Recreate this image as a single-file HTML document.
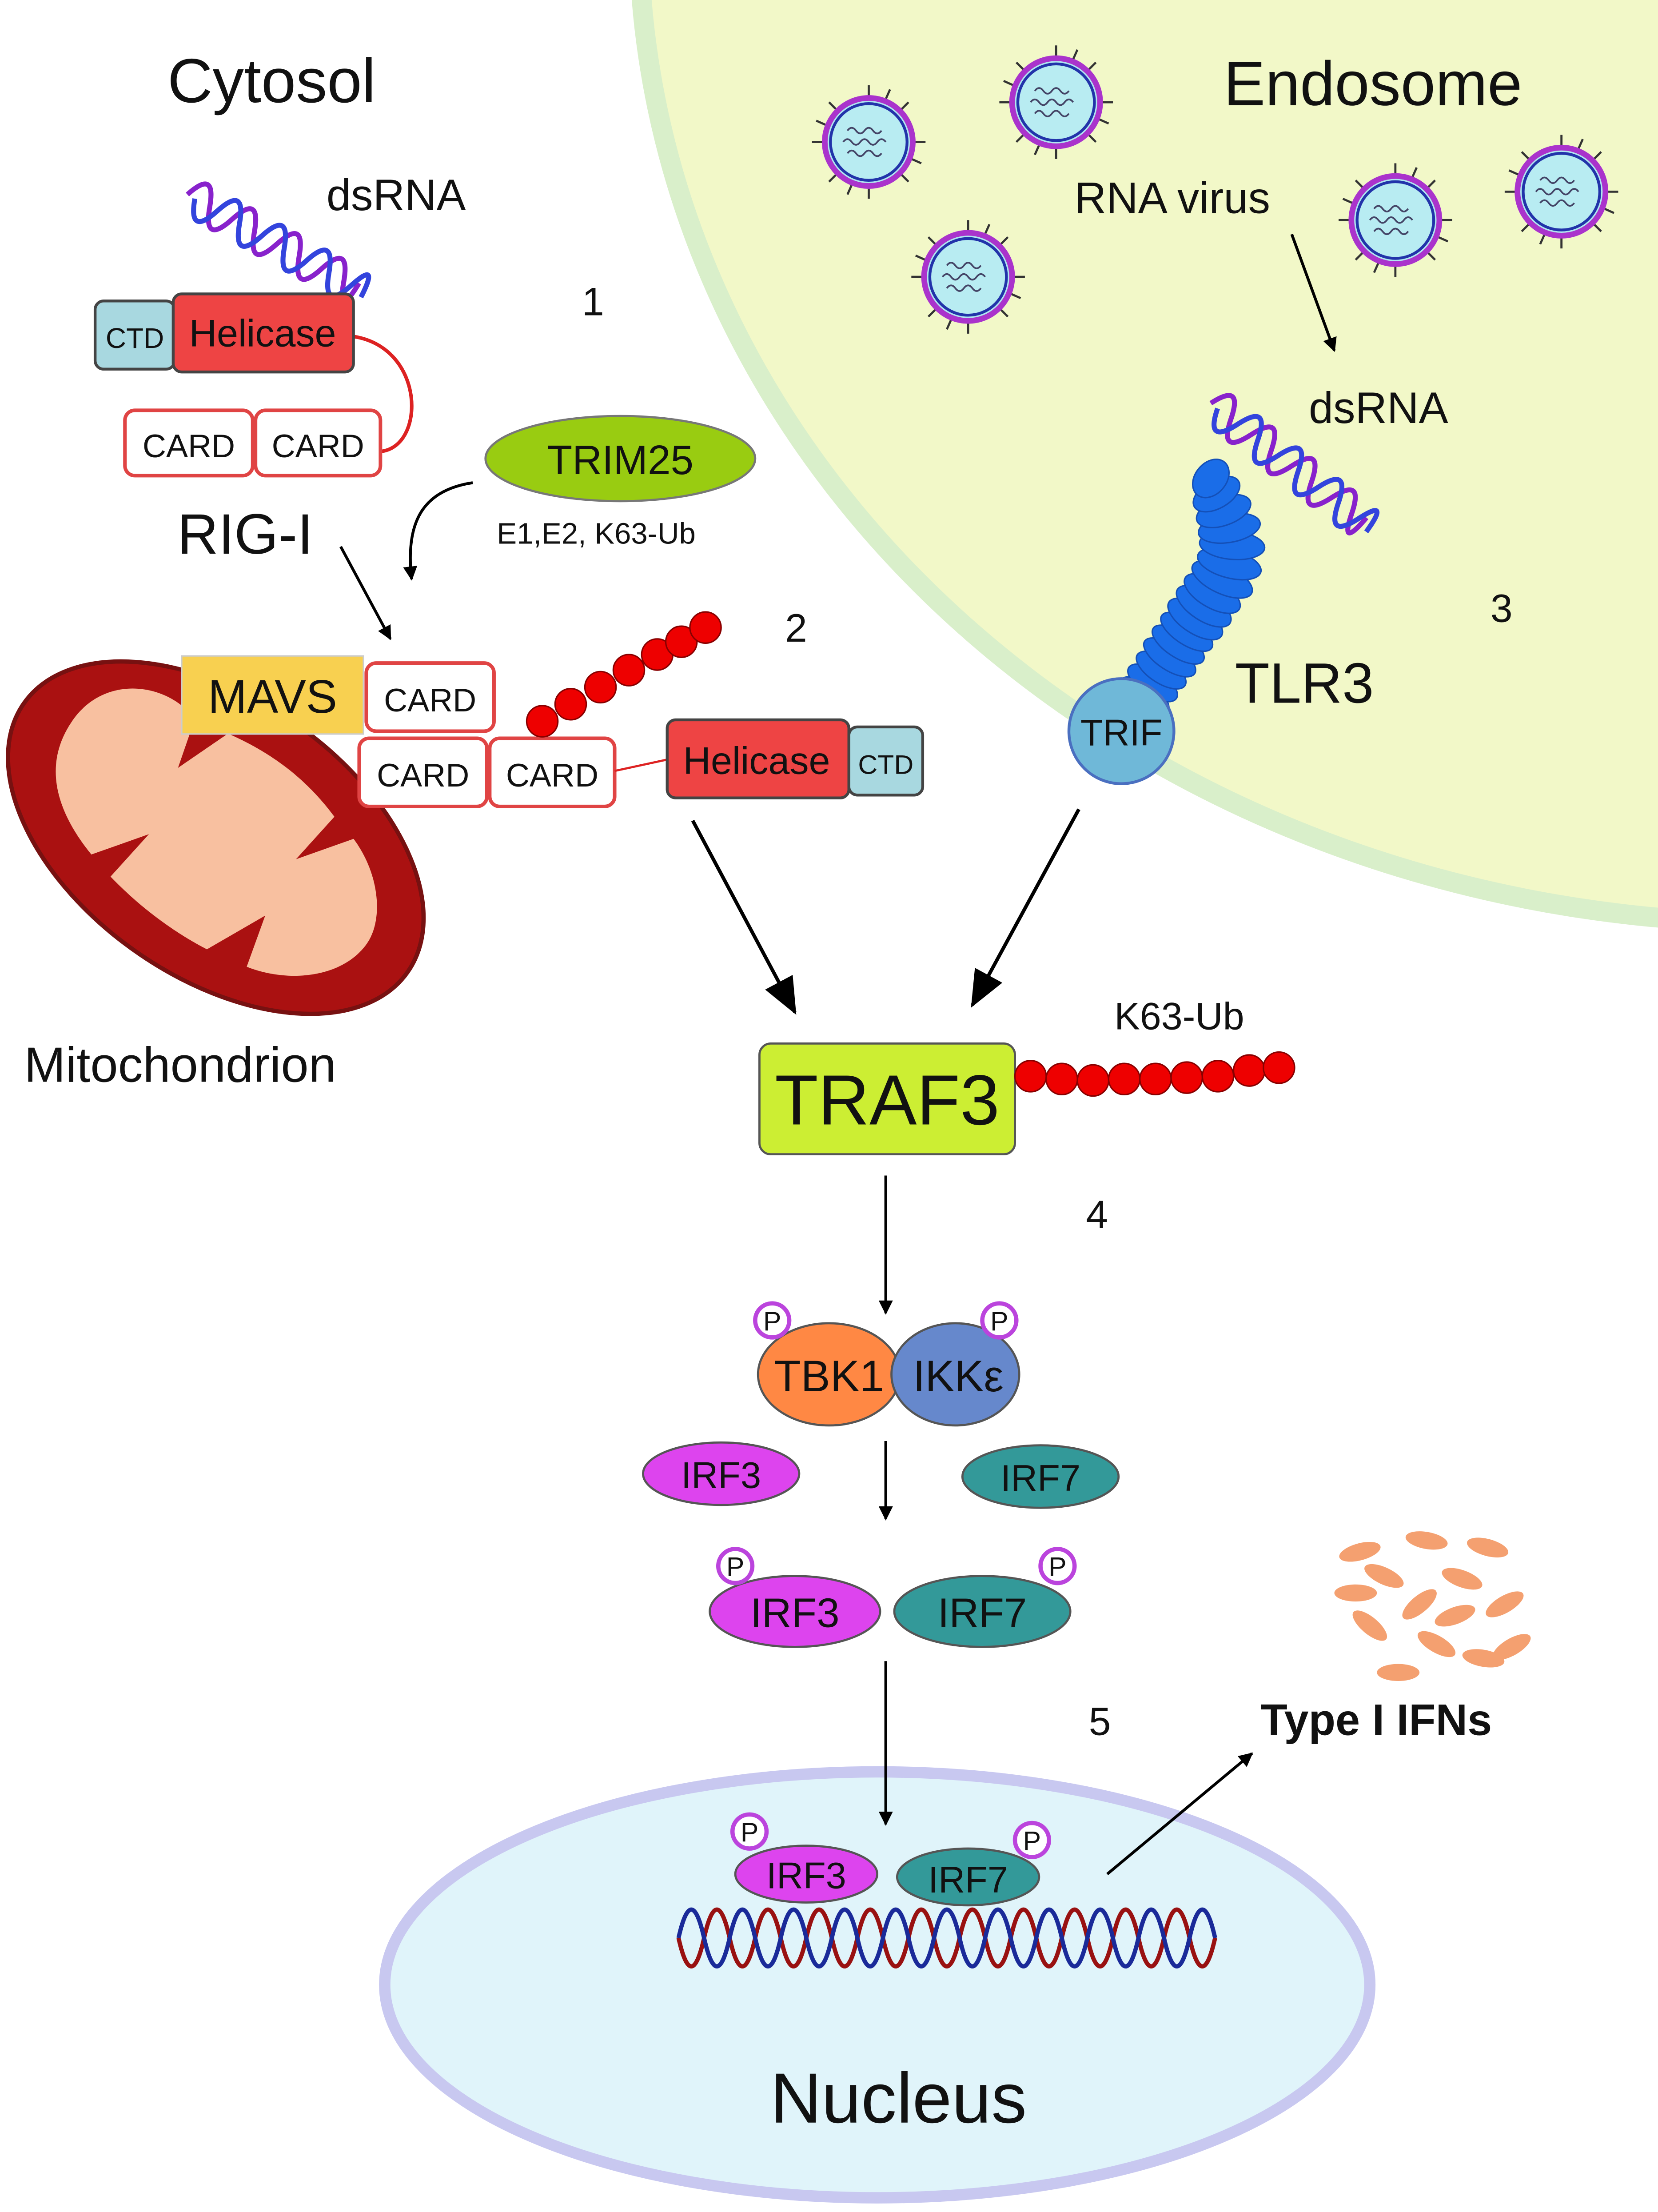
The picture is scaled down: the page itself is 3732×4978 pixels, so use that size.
<!DOCTYPE html>
<html><head><meta charset="utf-8"><style>
html,body{margin:0;padding:0;background:#fff;}
svg{display:block;}
text{font-family:"Liberation Sans",sans-serif;fill:#111;}
</style></head><body>
<svg width="3732" height="4978" viewBox="0 0 1168 1558" xmlns="http://www.w3.org/2000/svg">
<defs>
<marker id="ah" markerWidth="10" markerHeight="10" refX="9" refY="5" orient="auto" markerUnits="userSpaceOnUse">
<path d="M0,0 L10,5 L0,10 z" fill="#000"/></marker>
<marker id="ahb" markerWidth="26" markerHeight="22" refX="24" refY="11" orient="auto" markerUnits="userSpaceOnUse">
<path d="M0,0 L26,11 L0,22 z" fill="#000"/></marker>
<g id="vir">
<g stroke="#333" stroke-width="1.5">
<line x1="0" y1="-30" x2="0" y2="-40"/><line x1="0" y1="30" x2="0" y2="40"/><line x1="-30" y1="0" x2="-40" y2="0"/><line x1="30" y1="0" x2="40" y2="0"/>
<line x1="21" y1="21" x2="28" y2="28"/><line x1="-21" y1="21" x2="-28" y2="28"/><line x1="21" y1="-21" x2="28" y2="-28"/><line x1="-21" y1="-21" x2="-28" y2="-28"/>
<line x1="11" y1="-28" x2="15" y2="-37"/><line x1="-11" y1="28" x2="-15" y2="37"/><line x1="28" y1="11" x2="37" y2="15"/><line x1="-28" y1="-11" x2="-37" y2="-15"/>
</g>
<circle r="31" fill="#b0e8f0" stroke="#aa33cc" stroke-width="4"/>
<circle r="27" fill="#b8ecf2" stroke="#2233aa" stroke-width="2"/>
<path d="M-15,-8 q3,-4 6,0 t6,0 t6,0 t6,0 M-18,0 q3,-4 6,0 t6,0 t6,0 t6,0 t6,0 M-15,8 q3,-4 6,0 t6,0 t6,0 t6,0" fill="none" stroke="#446" stroke-width="1.2"/>
</g>
<g id="P"><circle r="12" fill="#fff" stroke="#bb44dd" stroke-width="3"/><text x="0" y="7" font-size="19" text-anchor="middle">P</text></g>
<g id="helix">
<path d="M0,0 q9,-26 18,0 t18,0 t18,0 t18,0 t18,0 t18,0 t18,0 t10,-4" fill="none" stroke="#8822cc" stroke-width="3.5"/>
<path d="M6,0 q9,26 18,0 t18,0 t18,0 t18,0 t18,0 t18,0 t18,0 t10,4" fill="none" stroke="#3344dd" stroke-width="3.5"/>
</g>
</defs>

<ellipse cx="1250" cy="-50" rx="800" ry="700" fill="#f2f8c8" stroke="#d9efca" stroke-width="14"/>

<text x="118" y="72" font-size="44">Cytosol</text>
<text x="862" y="74" font-size="44">Endosome</text>

<use href="#vir" x="612" y="100"/><use href="#vir" x="744" y="72"/><use href="#vir" x="682" y="195"/>
<use href="#vir" x="983" y="155"/><use href="#vir" x="1100" y="135"/>
<text x="757" y="150" font-size="31">RNA virus</text>
<line x1="910" y1="165" x2="940" y2="247" stroke="#000" stroke-width="2" marker-end="url(#ah)"/>

<use href="#helix" transform="translate(132,137) rotate(29)"/>
<text x="230" y="148" font-size="31">dsRNA</text>
<text x="410" y="222" font-size="28">1</text>

<path d="M249,237 C300,245 300,315 268,318" fill="none" stroke="#dd2222" stroke-width="2.5"/>
<rect x="67" y="212" width="56" height="48" rx="6" fill="#a8d8e0" stroke="#444" stroke-width="2"/>
<text x="95" y="245" font-size="20" text-anchor="middle">CTD</text>
<rect x="122" y="207" width="127" height="55" rx="6" fill="#ee4444" stroke="#444" stroke-width="2"/>
<text x="185" y="244" font-size="27" text-anchor="middle">Helicase</text>
<rect x="88" y="289" width="90" height="46" rx="7" fill="#fff" stroke="#e04444" stroke-width="2.5"/>
<text x="133" y="322" font-size="23" text-anchor="middle">CARD</text>
<rect x="180" y="289" width="88" height="46" rx="7" fill="#fff" stroke="#e04444" stroke-width="2.5"/>
<text x="224" y="322" font-size="23" text-anchor="middle">CARD</text>
<text x="125" y="390" font-size="40">RIG-I</text>

<ellipse cx="437" cy="323" rx="95" ry="30" fill="#99cc11" stroke="#777" stroke-width="1.5"/>
<text x="437" y="334" font-size="29" text-anchor="middle">TRIM25</text>
<text x="350" y="383" font-size="21">E1,E2, K63-Ub</text>
<path d="M333,340 C300,345 285,365 290,408" fill="none" stroke="#000" stroke-width="2" marker-end="url(#ah)"/>
<line x1="240" y1="385" x2="275" y2="450" stroke="#000" stroke-width="2" marker-end="url(#ah)"/>
<text x="553" y="452" font-size="28">2</text>

<g transform="translate(152,590) rotate(35)">
<ellipse rx="165" ry="98" fill="#aa1111" stroke="#771111" stroke-width="3"/>
<path d="M-130,-10 C-130,-50 -90,-70 -60,-60 L-50,-25 L-35,-65 C0,-72 30,-70 60,-60 L55,-20 L80,-55 C110,-45 130,-20 130,0 C130,30 100,55 70,62 L60,25 L40,68 C10,72 -20,70 -45,65 L-40,25 L-65,60 C-100,50 -130,30 -130,-10 z" fill="#f8c0a0"/>
</g>
<text x="17" y="762" font-size="35">Mitochondrion</text>

<rect x="128" y="462" width="128" height="55" fill="#f8d050" stroke="#ccc" stroke-width="1"/>
<text x="192" y="502" font-size="33" text-anchor="middle">MAVS</text>
<rect x="258" y="467" width="90" height="48" rx="7" fill="#fff" stroke="#e04444" stroke-width="2.5"/>
<text x="303" y="501" font-size="23" text-anchor="middle">CARD</text>
<rect x="253" y="520" width="90" height="48" rx="7" fill="#fff" stroke="#e04444" stroke-width="2.5"/>
<text x="298" y="554" font-size="23" text-anchor="middle">CARD</text>
<rect x="345" y="520" width="88" height="48" rx="7" fill="#fff" stroke="#e04444" stroke-width="2.5"/>
<text x="389" y="554" font-size="23" text-anchor="middle">CARD</text>
<line x1="433" y1="543" x2="470" y2="535" stroke="#dd2222" stroke-width="1.5"/>
<rect x="470" y="507" width="128" height="55" rx="6" fill="#ee4444" stroke="#444" stroke-width="2"/>
<text x="533" y="545" font-size="27" text-anchor="middle">Helicase</text>
<rect x="598" y="512" width="52" height="48" rx="6" fill="#a8d8e0" stroke="#444" stroke-width="2"/>
<text x="624" y="545" font-size="19" text-anchor="middle">CTD</text>
<g fill="#ee0000" stroke="#880000" stroke-width="1">
<circle cx="382" cy="508" r="11"/><circle cx="402" cy="496" r="11"/><circle cx="423" cy="484" r="11"/><circle cx="443" cy="472" r="11"/><circle cx="463" cy="461" r="11"/><circle cx="480" cy="452" r="11"/><circle cx="497" cy="442" r="11"/>
</g>

<use href="#helix" transform="translate(853,284) rotate(38)"/>
<text x="922" y="298" font-size="31">dsRNA</text>
<g fill="#1a6de8" stroke="#1450b8" stroke-width="1">
<ellipse cx="806" cy="490" rx="20" ry="9" transform="rotate(33 806 490)"/>
<ellipse cx="812" cy="481" rx="20" ry="9" transform="rotate(33 812 481)"/>
<ellipse cx="818" cy="472" rx="20" ry="9" transform="rotate(33 818 472)"/>
<ellipse cx="824" cy="463" rx="21" ry="9" transform="rotate(33 824 463)"/>
<ellipse cx="830" cy="454" rx="21" ry="9" transform="rotate(33 830 454)"/>
<ellipse cx="836" cy="445" rx="21" ry="9" transform="rotate(33 836 445)"/>
<ellipse cx="842" cy="436" rx="22" ry="10" transform="rotate(33 842 436)"/>
<ellipse cx="848" cy="427" rx="22" ry="10" transform="rotate(33 848 427)"/>
<ellipse cx="854" cy="418" rx="22" ry="10" transform="rotate(30 854 418)"/>
<ellipse cx="861" cy="408" rx="23" ry="10" transform="rotate(25 861 408)"/>
<ellipse cx="866" cy="397" rx="23" ry="10" transform="rotate(15 866 397)"/>
<ellipse cx="868" cy="384" rx="23" ry="10" transform="rotate(5 868 384)"/>
<ellipse cx="866" cy="372" rx="22" ry="10" transform="rotate(-10 866 372)"/>
<ellipse cx="862" cy="360" rx="20" ry="10" transform="rotate(-20 862 360)"/>
<ellipse cx="857" cy="348" rx="18" ry="10" transform="rotate(-30 857 348)"/>
<ellipse cx="853" cy="337" rx="15" ry="11" transform="rotate(-50 853 337)"/>
</g>
<text x="870" y="495" font-size="40">TLR3</text>
<text x="1050" y="438" font-size="28">3</text>
<circle cx="790" cy="515" r="37" fill="#6fb8d8" stroke="#4a6fc0" stroke-width="2"/>
<text x="790" y="525" font-size="26" text-anchor="middle">TRIF</text>

<line x1="488" y1="578" x2="560" y2="713" stroke="#000" stroke-width="2.5" marker-end="url(#ahb)"/>
<line x1="760" y1="570" x2="685" y2="708" stroke="#000" stroke-width="2.5" marker-end="url(#ahb)"/>

<rect x="535" y="735" width="180" height="78" rx="8" fill="#ccee33" stroke="#555" stroke-width="1.5"/>
<text x="625" y="792" font-size="50" text-anchor="middle">TRAF3</text>
<text x="785" y="725" font-size="27">K63-Ub</text>
<g fill="#ee0000" stroke="#880000" stroke-width="1">
<circle cx="726" cy="758" r="11"/><circle cx="748" cy="760" r="11"/><circle cx="770" cy="761" r="11"/><circle cx="792" cy="760" r="11"/><circle cx="814" cy="760" r="11"/><circle cx="836" cy="759" r="11"/><circle cx="858" cy="758" r="11"/><circle cx="880" cy="754" r="11"/><circle cx="901" cy="752" r="11"/>
</g>
<text x="765" y="865" font-size="28">4</text>
<line x1="624" y1="828" x2="624" y2="925" stroke="#000" stroke-width="2" marker-end="url(#ah)"/>

<ellipse cx="584" cy="968" rx="50" ry="36" fill="#ff8844" stroke="#555" stroke-width="1.5"/>
<ellipse cx="673" cy="968" rx="45" ry="36" fill="#6688cc" stroke="#555" stroke-width="1.5"/>
<text x="584" y="980" font-size="31" text-anchor="middle">TBK1</text>
<text x="675" y="980" font-size="31" text-anchor="middle">IKKε</text>
<use href="#P" x="544" y="930"/><use href="#P" x="704" y="930"/>

<ellipse cx="508" cy="1038" rx="55" ry="22" fill="#dd44ee" stroke="#555" stroke-width="1.5"/>
<text x="508" y="1048" font-size="26" text-anchor="middle">IRF3</text>
<ellipse cx="733" cy="1040" rx="55" ry="22" fill="#339999" stroke="#555" stroke-width="1.5"/>
<text x="733" y="1050" font-size="26" text-anchor="middle">IRF7</text>
<line x1="624" y1="1015" x2="624" y2="1070" stroke="#000" stroke-width="2" marker-end="url(#ah)"/>

<ellipse cx="560" cy="1135" rx="60" ry="25" fill="#dd44ee" stroke="#555" stroke-width="1.5"/>
<text x="560" y="1146" font-size="29" text-anchor="middle">IRF3</text>
<ellipse cx="692" cy="1135" rx="62" ry="25" fill="#339999" stroke="#555" stroke-width="1.5"/>
<text x="692" y="1146" font-size="29" text-anchor="middle">IRF7</text>
<use href="#P" x="518" y="1103"/><use href="#P" x="745" y="1103"/>
<text x="767" y="1222" font-size="28">5</text>

<g fill="#f4a070">
<ellipse cx="958" cy="1093" rx="15" ry="6" transform="rotate(-15 958 1093)"/>
<ellipse cx="1005" cy="1085" rx="15" ry="6" transform="rotate(10 1005 1085)"/>
<ellipse cx="1048" cy="1090" rx="15" ry="6" transform="rotate(15 1048 1090)"/>
<ellipse cx="975" cy="1110" rx="15" ry="6" transform="rotate(25 975 1110)"/>
<ellipse cx="1030" cy="1112" rx="15" ry="6" transform="rotate(20 1030 1112)"/>
<ellipse cx="955" cy="1122" rx="15" ry="6"/>
<ellipse cx="1000" cy="1130" rx="15" ry="6" transform="rotate(-40 1000 1130)"/>
<ellipse cx="1060" cy="1130" rx="15" ry="6" transform="rotate(-30 1060 1130)"/>
<ellipse cx="965" cy="1145" rx="15" ry="6" transform="rotate(40 965 1145)"/>
<ellipse cx="1025" cy="1138" rx="15" ry="6" transform="rotate(-20 1025 1138)"/>
<ellipse cx="1012" cy="1158" rx="15" ry="6" transform="rotate(30 1012 1158)"/>
<ellipse cx="1065" cy="1160" rx="15" ry="6" transform="rotate(-30 1065 1160)"/>
<ellipse cx="985" cy="1178" rx="15" ry="6"/>
<ellipse cx="1045" cy="1168" rx="15" ry="6" transform="rotate(10 1045 1168)"/>
</g>
<text x="888" y="1222" font-size="31" font-weight="bold">Type I IFNs</text>

<ellipse cx="618" cy="1398" rx="347" ry="150" fill="#e0f4fa" stroke="#c8c8f0" stroke-width="8"/>
<line x1="624" y1="1170" x2="624" y2="1285" stroke="#000" stroke-width="2" marker-end="url(#ah)"/>
<text x="633" y="1495" font-size="50" text-anchor="middle">Nucleus</text>
<path d="M478,1365 q9,40 18,0 t18,0 t18,0 t18,0 t18,0 t18,0 t18,0 t18,0 t18,0 t18,0 t18,0 t18,0 t18,0 t18,0 t18,0 t18,0 t18,0 t18,0 t18,0 t18,0 t18,0" fill="none" stroke="#991111" stroke-width="3"/>
<path d="M478,1365 q9,-40 18,0 t18,0 t18,0 t18,0 t18,0 t18,0 t18,0 t18,0 t18,0 t18,0 t18,0 t18,0 t18,0 t18,0 t18,0 t18,0 t18,0 t18,0 t18,0 t18,0 t18,0" fill="none" stroke="#1a2a99" stroke-width="3"/>
<ellipse cx="568" cy="1320" rx="50" ry="20" fill="#dd44ee" stroke="#555" stroke-width="1.5"/>
<text x="568" y="1330" font-size="26" text-anchor="middle">IRF3</text>
<ellipse cx="682" cy="1322" rx="50" ry="20" fill="#339999" stroke="#555" stroke-width="1.5"/>
<text x="682" y="1333" font-size="26" text-anchor="middle">IRF7</text>
<use href="#P" x="528" y="1290"/><use href="#P" x="727" y="1296"/>
<line x1="780" y1="1320" x2="882" y2="1235" stroke="#000" stroke-width="2" marker-end="url(#ah)"/>
</svg>
</body></html>
